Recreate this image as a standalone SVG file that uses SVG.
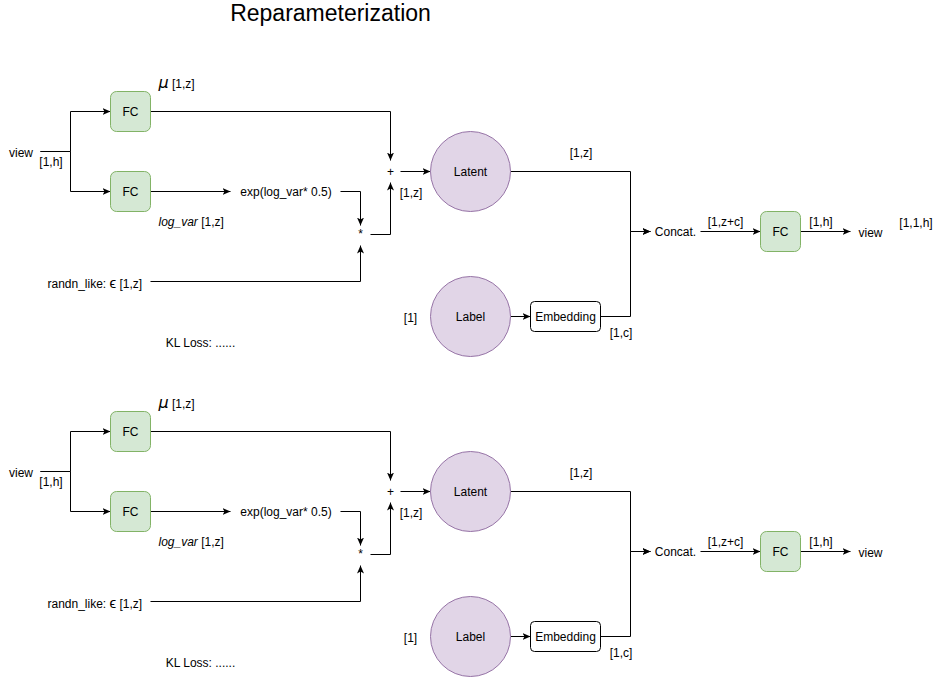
<svg xmlns="http://www.w3.org/2000/svg" width="941" height="678" viewBox="0 0 941 678">
<style>
text{font-family:"Liberation Sans",Arial,Helvetica,sans-serif;font-size:12px;fill:#000}
.c{text-anchor:middle}
.fc{fill:#d5e8d4;stroke:#82b366;stroke-width:1}
.circ{fill:#e1d5e7;stroke:#9673a6;stroke-width:1}
.emb{fill:#fff;stroke:#000;stroke-width:1}
.e{fill:none;stroke:#000;stroke-width:1}
.a{marker-end:url(#arr)}
.title{font-size:23px}
.mu{font-style:italic;font-size:16px;font-family:"DejaVu Sans","Liberation Sans",sans-serif;font-weight:normal}
</style>
<defs>
<marker id="arr" markerUnits="userSpaceOnUse" markerWidth="8" markerHeight="8" viewBox="0 0 8 8" refX="8" refY="4" orient="auto">
<path d="M0,0.5 L8,4 L0,7.5 L2,4 Z" fill="#000"/>
</marker>
</defs>
<text id="title" class="c title" x="330.5" y="21">Reparameterization</text>

<g transform="translate(0.5,0.5)">
<g id="top">
<g id="connectors-top">
<path class="e a" d="M40,151 H70 V111 H110"/>
<path class="e a" d="M40,151 H70 V191 H110"/>
<path class="e a" d="M150,111 H390 V160"/>
<path class="e a" d="M150,191 H230"/>
<path class="e a" d="M340,191 H360 V225"/>
<path class="e a" d="M370,234 H390 V182"/>
<path class="e a" d="M150,281 H360 V245"/>
<path class="e a" d="M400,171 H430"/>
<path class="e a" d="M510,171 H630 V231 H650"/>
<path class="e a" d="M510,316 H530"/>
<path class="e a" d="M600,316 H630 V231 H650"/>
<path class="e a" d="M700,231 H760"/>
<path class="e a" d="M800,231 H850"/>
</g>
<g id="fc-mu-top"><rect class="fc" x="110" y="91" width="40" height="40" rx="6"/><text class="c" x="130" y="115">FC</text></g>
<g id="fc-logvar-top"><rect class="fc" x="110" y="171" width="40" height="40" rx="6"/><text class="c" x="130" y="195">FC</text></g>
<g id="latent-top"><circle class="circ" cx="470" cy="171" r="40"/><text class="c" x="470" y="175">Latent</text></g>
<g id="label-top"><circle class="circ" cx="470" cy="316" r="40"/><text class="c" x="470" y="320">Label</text></g>
<g id="embedding-top"><rect class="emb" x="530" y="301" width="70" height="30" rx="4"/><text class="c" x="565" y="320">Embedding</text></g>
<g id="fc-out-top"><rect class="fc" x="760" y="211" width="40" height="40" rx="6"/><text class="c" x="780" y="235">FC</text></g>
<g id="labels-top">
<text class="c" x="20.5" y="156">view</text>
<text class="c" x="50.5" y="165">[1,h]</text>
<text x="158" y="87"><tspan class="mu">μ</tspan> [1,z]</text>
<text class="c" x="285.5" y="195">exp(log_var* 0.5)</text>
<text x="158" y="225"><tspan font-style="italic">log_var</tspan> [1,z]</text>
<text class="c" x="390" y="175">+</text>
<text class="c" x="360" y="237">*</text>
<text class="c" x="410.5" y="196">[1,z]</text>
<text x="47" y="287">randn_like: <tspan font-size="15">ϵ</tspan> [1,z]</text>
<text class="c" x="410" y="321">[1]</text>
<text class="c" x="580.5" y="156">[1,z]</text>
<text class="c" x="620.5" y="336">[1,c]</text>
<text class="c" x="675" y="235">Concat.</text>
<text class="c" x="725" y="225">[1,z+c]</text>
<text class="c" x="820.5" y="225">[1,h]</text>
<text class="c" x="870" y="236">view</text>
<text class="c" x="915.5" y="226">[1,1,h]</text>
<text class="c" x="200" y="346">KL Loss: ......</text>
</g>
</g>

<g id="bottom" transform="translate(0,320)">
<g id="connectors-bottom">
<path class="e a" d="M40,151 H70 V111 H110"/>
<path class="e a" d="M40,151 H70 V191 H110"/>
<path class="e a" d="M150,111 H390 V160"/>
<path class="e a" d="M150,191 H230"/>
<path class="e a" d="M340,191 H360 V225"/>
<path class="e a" d="M370,234 H390 V182"/>
<path class="e a" d="M150,281 H360 V245"/>
<path class="e a" d="M400,171 H430"/>
<path class="e a" d="M510,171 H630 V231 H650"/>
<path class="e a" d="M510,316 H530"/>
<path class="e a" d="M600,316 H630 V231 H650"/>
<path class="e a" d="M700,231 H760"/>
<path class="e a" d="M800,231 H850"/>
</g>
<g id="fc-mu-bottom"><rect class="fc" x="110" y="91" width="40" height="40" rx="6"/><text class="c" x="130" y="115">FC</text></g>
<g id="fc-logvar-bottom"><rect class="fc" x="110" y="171" width="40" height="40" rx="6"/><text class="c" x="130" y="195">FC</text></g>
<g id="latent-bottom"><circle class="circ" cx="470" cy="171" r="40"/><text class="c" x="470" y="175">Latent</text></g>
<g id="label-bottom"><circle class="circ" cx="470" cy="316" r="40"/><text class="c" x="470" y="320">Label</text></g>
<g id="embedding-bottom"><rect class="emb" x="530" y="301" width="70" height="30" rx="4"/><text class="c" x="565" y="320">Embedding</text></g>
<g id="fc-out-bottom"><rect class="fc" x="760" y="211" width="40" height="40" rx="6"/><text class="c" x="780" y="235">FC</text></g>
<g id="labels-bottom">
<text class="c" x="20.5" y="156">view</text>
<text class="c" x="50.5" y="165">[1,h]</text>
<text x="158" y="87"><tspan class="mu">μ</tspan> [1,z]</text>
<text class="c" x="285.5" y="195">exp(log_var* 0.5)</text>
<text x="158" y="225"><tspan font-style="italic">log_var</tspan> [1,z]</text>
<text class="c" x="390" y="175">+</text>
<text class="c" x="360" y="237">*</text>
<text class="c" x="410.5" y="196">[1,z]</text>
<text x="47" y="287">randn_like: <tspan font-size="15">ϵ</tspan> [1,z]</text>
<text class="c" x="410" y="321">[1]</text>
<text class="c" x="580.5" y="156">[1,z]</text>
<text class="c" x="620.5" y="336">[1,c]</text>
<text class="c" x="675" y="235">Concat.</text>
<text class="c" x="725" y="225">[1,z+c]</text>
<text class="c" x="820.5" y="225">[1,h]</text>
<text class="c" x="870" y="236">view</text>
<text class="c" x="200" y="346">KL Loss: ......</text>
</g>
</g>
</g>
</svg>
